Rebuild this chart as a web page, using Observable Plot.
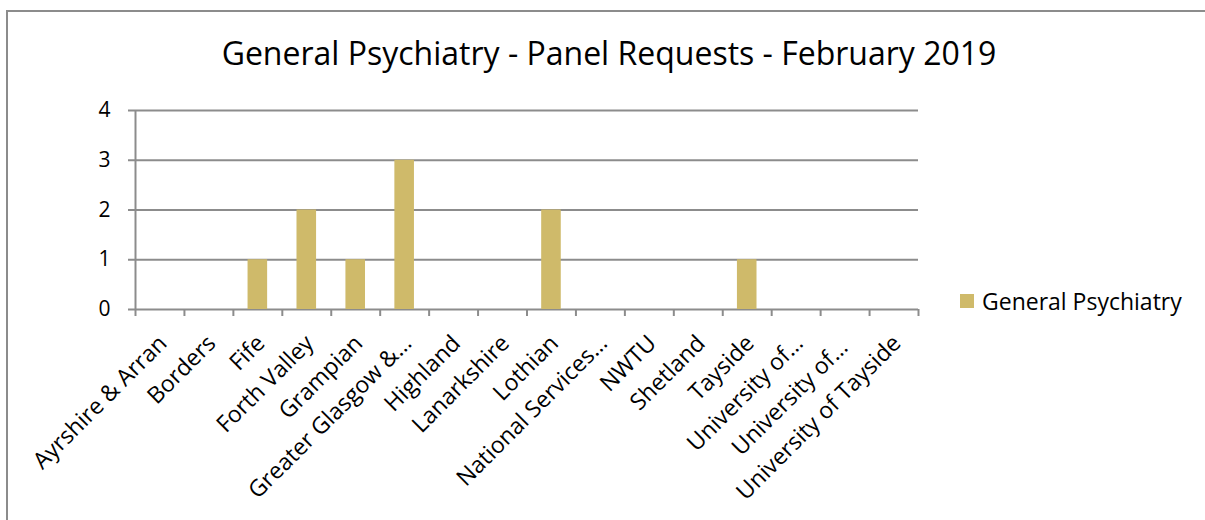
<!DOCTYPE html>
<html>
<head>
<meta charset="utf-8">
<script src="https://cdn.jsdelivr.net/npm/d3@7"></script>
<script src="https://cdn.jsdelivr.net/npm/@observablehq/plot@0.6"></script>
<style>
  html, body { margin: 0; padding: 0; background: #fff; overflow: hidden; }
  #wrap { position: relative; width: 1205px; height: 520px; font-family: "Open Sans", sans-serif; }
  #frame { position: absolute; left: 6px; top: 10px; width: 1220px; height: 540px; border: 2px solid #8c8c8c; box-sizing: border-box; }
  #title { position: absolute; left: 0; width: 1218px; top: 31px; text-align: center; font-size: 32px; color: #000; line-height: 44px; }
  #legend { position: absolute; left: 960px; top: 286px; font-size: 23px; color: #000; display: flex; align-items: center; line-height: 30px; }
  #legend .sw { width: 14px; height: 14px; background: #CFBA6A; margin-right: 8px; }
  #chart { position: absolute; left: 0; top: 0; }
  #chart svg text { font-family: "Open Sans", sans-serif; fill: #000; }
  #chart svg g[aria-label="y-axis tick label"] text { font-size: 21px; }
  #chart svg g[aria-label="x-axis tick label"] text { font-size: 23px; }
</style>
</head>
<body>
<div id="wrap">
  <div id="frame"></div>
  <div id="chart"></div>
  <div id="title"></div>
  <div id="legend"><div class="sw"></div><span id="legendText"></span></div>
</div>
<script>
const titleText = "General Psychiatry - Panel Requests - February 2019";
const seriesName = "General Psychiatry";
const categories = [
  "Ayrshire & Arran", "Borders", "Fife", "Forth Valley", "Grampian",
  "Greater Glasgow &…", "Highland", "Lanarkshire", "Lothian", "National Services…",
  "NWTU", "Shetland", "Tayside", "University of…", "University of… ", "University of Tayside"
];
const values = [0, 0, 1, 2, 1, 3, 0, 0, 2, 0, 0, 0, 1, 0, 0, 0];
const yTicks = [0, 1, 2, 3, 4];

document.getElementById("title").textContent = titleText;
document.getElementById("legendText").textContent = seriesName;

const data = categories.map((c, i) => ({category: c, value: values[i]}));

const W = 1205, H = 520;
const mL = 135, mR = W - 918, mT = 110, mB = H - 309;
const bw = (W - mL - mR) / categories.length;
const gridColor = "#8c8c8c";
const barColor = "#CFBA6A";

const chart = Plot.plot({
  width: W,
  height: H,
  marginLeft: mL,
  marginRight: mR,
  marginTop: mT,
  marginBottom: mB,
  style: { fontFamily: "'Open Sans', sans-serif", fontSize: "21px", color: "#000", background: "transparent", overflow: "visible" },
  x: { type: "band", domain: categories, padding: 0, round: false },
  y: { domain: [0, 4] },
  marks: [
    Plot.ruleY(yTicks, { y: d => d, stroke: gridColor, strokeWidth: 2, insetLeft: -7 }),
    Plot.barY(data, { x: "category", y: "value", fill: barColor, insetLeft: bw * 0.3, insetRight: bw * 0.3 }),
    Plot.ruleX([categories[0]], { x: d => d, dx: -bw / 2, y1: 0, y2: 4, stroke: gridColor, strokeWidth: 2 }),
    Plot.ruleX(categories, { x: d => d, dx: -bw / 2, y1: 0, y2: 0, insetBottom: -7, stroke: gridColor, strokeWidth: 2 }),
    Plot.ruleX([categories[categories.length - 1]], { x: d => d, dx: bw / 2, y1: 0, y2: 0, insetBottom: -7, stroke: gridColor, strokeWidth: 2 }),
    Plot.axisY(yTicks, { tickSize: 0, tickPadding: 25, label: null, tickFormat: d => String(d) }),
    Plot.axisX({ tickSize: 0, tickRotate: -45, tickPadding: 30, dx: 3, label: null })
  ]
});
document.getElementById("chart").appendChild(chart);
</script>
</body>
</html>
